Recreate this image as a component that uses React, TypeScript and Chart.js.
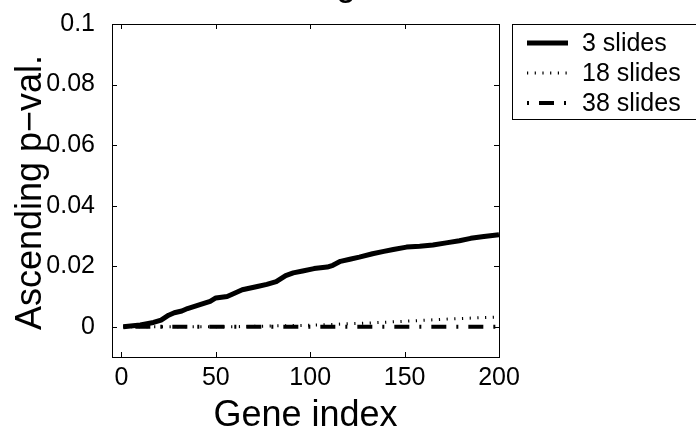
import React, { useEffect, useRef } from "react";
import { Chart, registerables } from "chart.js";

Chart.register(...registerables);

// ---- data ----
const slides3Index = [1, 10, 17, 21, 25, 28, 32, 35, 42, 47, 50, 56, 59, 64, 72, 77, 82, 87, 91, 96, 102, 109, 112, 116, 121, 126, 133, 139, 144, 151, 158, 165, 172, 179, 185, 192, 200];
const slides3Pval = [0, 0.0006, 0.0014, 0.0022, 0.0038, 0.0046, 0.0052, 0.006, 0.0074, 0.0084, 0.0095, 0.01, 0.0108, 0.0122, 0.0133, 0.014, 0.0149, 0.0169, 0.0178, 0.0184, 0.0192, 0.0197, 0.0203, 0.0216, 0.0223, 0.023, 0.0241, 0.0249, 0.0255, 0.0263, 0.0266, 0.027, 0.0277, 0.0284, 0.0292, 0.0298, 0.0304];

const slides18Index = [1, 60, 100, 130, 150, 175, 200];
const slides18Pval = [0, 0, 0.0005, 0.0012, 0.0018, 0.0026, 0.0032];

const slides38Index = [1, 200];
const slides38Pval = [0, 0];

const seriesLabels = ["3 slides", "18 slides", "38 slides"];
const xTicks = [0, 50, 100, 150, 200];
const yTicks = [0, 0.02, 0.04, 0.06, 0.08, 0.1];
const xLabel = "Gene index";
const yLabel = "Ascending p\u2212val.";
const titleFragment = "g,";

const FONT = "Arial, 'Liberation Sans', Helvetica, sans-serif";

const toPoints = (xs: number[], ys: number[]) => xs.map((x, i) => ({ x, y: ys[i] }));

const styles = [
  { width: 5, dash: [] as number[] },
  { width: 3, dash: [1.2, 6.5] },
  { width: 4, dash: [2, 10, 15, 10] },
];

const decorPlugin = {
  id: "decor",
  afterDraw(chart: any) {
    const { ctx, chartArea } = chart;
    const { left, right, top, bottom } = chartArea;
    const xs = chart.scales.x;
    const ys = chart.scales.y;
    ctx.save();
    ctx.strokeStyle = "#000";
    ctx.lineWidth = 1;
    ctx.setLineDash([]);
    // frame
    ctx.strokeRect(Math.round(left) + 0.5, Math.round(top) + 0.5, Math.round(right - left), Math.round(bottom - top));
    // inward ticks
    const tl = 5;
    ctx.beginPath();
    xTicks.forEach((t) => {
      const px = Math.round(xs.getPixelForValue(t)) + 0.5;
      ctx.moveTo(px, bottom);
      ctx.lineTo(px, bottom - tl);
      ctx.moveTo(px, top);
      ctx.lineTo(px, top + tl);
    });
    yTicks.forEach((t) => {
      const py = Math.round(ys.getPixelForValue(t)) + 0.5;
      ctx.moveTo(left, py);
      ctx.lineTo(left + tl, py);
      ctx.moveTo(right, py);
      ctx.lineTo(right - tl, py);
    });
    ctx.stroke();

    // axis titles
    ctx.fillStyle = "#000";
    ctx.font = `36px ${FONT}`;
    ctx.textAlign = "center";
    ctx.textBaseline = "alphabetic";
    ctx.fillText(xLabel, (left + right) / 2, 426);
    ctx.save();
    ctx.translate(41, (top + bottom) / 2 + 2);
    ctx.rotate(-Math.PI / 2);
    ctx.fillText(yLabel, 0, 0);
    ctx.restore();

    // clipped title fragment
    ctx.textAlign = "left";
    ctx.fillText(titleFragment, 336, -5);

    // legend
    const bx = right + 13;
    const by = top;
    ctx.lineWidth = 1;
    ctx.strokeRect(Math.round(bx) + 0.5, Math.round(by) + 0.5, 200, 95);
    const rows = [37, 67, 97];
    ctx.font = `25px ${FONT}`;
    ctx.textBaseline = "middle";
    seriesLabels.forEach((lab, i) => {
      const y = by + rows[i] - 18;
      ctx.save();
      ctx.lineWidth = styles[i].width;
      ctx.setLineDash(styles[i].dash);
      ctx.lineCap = "butt";
      ctx.beginPath();
      ctx.moveTo(bx + 15, y);
      ctx.lineTo(bx + 56, y);
      ctx.stroke();
      ctx.restore();
      ctx.fillText(lab, bx + 70, y + 1);
    });
    ctx.restore();
  },
};

export default function App() {
  const ref = useRef<HTMLCanvasElement>(null);
  useEffect(() => {
    if (!ref.current) return;
    const allSets = [
      toPoints(slides3Index, slides3Pval),
      toPoints(slides18Index, slides18Pval),
      toPoints(slides38Index, slides38Pval),
    ];
    const chart = new Chart(ref.current, {
      type: "line",
      data: {
        datasets: allSets.map((d, i) => ({
          label: seriesLabels[i],
          data: d,
          borderColor: "#000",
          backgroundColor: "#000",
          borderWidth: styles[i].width,
          borderDash: styles[i].dash,
          pointRadius: 0,
          fill: false,
          tension: 0,
          borderCapStyle: "butt",
          borderJoinStyle: "round",
        })),
      },
      options: {
        animation: false,
        responsive: false,
        maintainAspectRatio: false,
        layout: { padding: { top: 18, right: 197, left: 0, bottom: 0 } },
        plugins: { legend: { display: false }, tooltip: { enabled: false }, title: { display: false } },
        scales: {
          x: {
            type: "linear",
            min: -5,
            max: 200,
            grid: { display: false },
            border: { display: false },
            afterBuildTicks: (s: any) => {
              s.ticks = xTicks.map((v) => ({ value: v }));
            },
            afterFit: (s: any) => {
              s.height = 75;
            },
            ticks: {
              color: "#000",
              font: { size: 25, family: FONT },
              padding: -2,
              maxRotation: 0,
              autoSkip: false,
              callback: (v: any) => String(v),
            },
          },
          y: {
            type: "linear",
            min: -0.01,
            max: 0.1,
            grid: { display: false },
            border: { display: false },
            afterBuildTicks: (s: any) => {
              s.ticks = yTicks.map((v) => ({ value: v }));
            },
            afterFit: (s: any) => {
              s.width = 112;
            },
            ticks: {
              color: "#000",
              font: { size: 25, family: FONT },
              padding: 9,
              autoSkip: false,
              callback: (v: any) => String(Number(Number(v).toFixed(3))),
            },
          },
        },
      },
      plugins: [decorPlugin],
    });
    return () => chart.destroy();
  }, []);
  return (
    <div style={{ position: "absolute", left: 0, top: 0, width: 696, height: 432, background: "#fff" }}>
      <canvas ref={ref} width={696} height={432} style={{ width: 696, height: 432, display: "block" }} />
    </div>
  );
}
